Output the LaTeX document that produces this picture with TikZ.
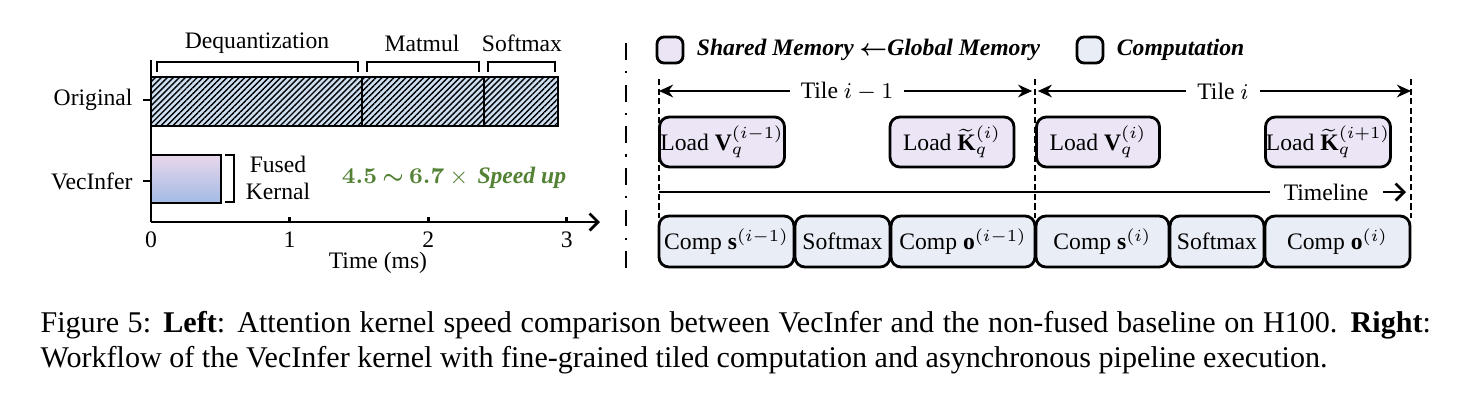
\documentclass[tikz,border=0pt]{standalone}
\usepackage{fontspec}
\setmainfont{Liberation Serif}
\usepackage{amsmath}
\usepackage{bm}
\usetikzlibrary{arrows.meta, positioning, patterns.meta}

\definecolor{loadfill}{RGB}{236,229,246}
\definecolor{compfill}{RGB}{233,237,246}
\definecolor{hatchfill}{RGB}{206,223,242}
\definecolor{fusedtop}{RGB}{233,215,236}
\definecolor{fusedbot}{RGB}{162,186,228}
\definecolor{speedgreen}{RGB}{84,130,53}
\newcommand{\pxu}{0.0125cm}

\begin{document}
\begin{tikzpicture}[x=\pxu, y=-\pxu,
  node distance=0.0125cm,
  lbl/.style={font=\fontsize{8.4}{9.6}\selectfont, inner sep=0pt},
  bar/.style={draw=black, line width=1pt},
  hatchbar/.style={bar, fill=hatchfill,
    postaction={pattern={Lines[angle=45, distance=1.5pt, line width=0.5pt]}, pattern color=black}},
  brk/.style={line width=1pt},
  axisline/.style={line width=1pt},
  tilebox/.style={draw=black, line width=1pt, rounded corners=3.5pt, inner sep=0pt, outer sep=0pt,
    minimum height=50*\pxu, font=\fontsize{8.4}{9.6}\selectfont},
  loadbox/.style={tilebox, fill=loadfill},
  compbox/.style={tilebox, fill=compfill, minimum height=51*\pxu},
  legbox/.style={draw=black, line width=1pt, rounded corners=2.5pt,
    minimum width=26*\pxu, minimum height=26*\pxu, inner sep=0pt},
  legtext/.style={font=\fontsize{8.4}{9.6}\selectfont\bfseries\itshape, inner sep=0pt, anchor=west},
  tiledash/.style={line width=1pt, dash pattern=on 2.2pt off 1.2pt},
  tilearrow/.style={line width=1pt, {Stealth[length=5pt, width=4.5pt]}-{Stealth[length=5pt, width=4.5pt]}},
  chevron/.style={-{Straight Barb[length=3pt, width=6pt, line width=1pt]}},
  caption/.style={font=\fontsize{10.7}{12.8}\selectfont, inner sep=0pt, anchor=base west}
]
\useasboundingbox (0,0) rectangle (1471,406);

% left: kernel time comparison
\draw[axisline] (151,60) -- (151,222);
\draw[axisline, chevron] (151,222) -- (600,222);
\foreach \t in {0,1,2,3}{
  \draw[axisline] ({151+138.6*\t},222) -- ++(0,-5);
  \node[lbl] (tick\t) at ({151+138.6*\t},240) {\t};
}
\node[lbl] (xlabel) at (378,263) {Time (ms)};

\draw[axisline] (143,100) -- (151,100);
\node[lbl, anchor=east] (orig) at (133,100) {Original};
\draw[axisline] (143,181) -- (151,181);
\node[lbl, anchor=east] (vecinf) at (133,181) {VecInfer};

\draw[hatchbar] (151,77) rectangle (362,126);
\draw[hatchbar] (362,77) rectangle (484,126);
\draw[hatchbar] (484,77) rectangle (558,126);

\draw[brk] (157,72) |- (358,62) -- (358,72);
\draw[brk] (367,72) |- (479,62) -- (479,72);
\draw[brk] (488,72) |- (555,62) -- (555,72);
\node[lbl] (deq) at (257,43) {Dequantization};
\node[lbl] (mm) at (422,43) {Matmul};
\node[lbl] (sm) at (522,43) {Softmax};

\shade[top color=fusedtop, bottom color=fusedbot] (151,155) rectangle (221,203);
\draw[bar] (151,155) rectangle (221,203);
\draw[brk] (225,155) -- (234,155) -- (234,202) -- (225,202);
\node[lbl, align=center] (fused) at (278,178) {Fused\\Kernal};

\node[inner sep=0pt, text=speedgreen, font=\fontsize{8.4}{10}\selectfont] (speed) at (454,178)
  {$\bm{4.5\mathbin{\sim}6.7}\times{}$\,\textbf{\textit{Speed up}}};

% divider
\draw[line width=1pt, dash pattern=on 6pt off 4pt on 0.8pt off 4pt] (626,43) -- (626,278);

% right: legend
\node[legbox, fill=loadfill] (legload) at (670,50) {};
\node[legtext, right=0.15cm of legload] (legloadtxt) {Shared Memory $\bm{\leftarrow}$Global Memory};
\node[legbox, fill=compfill] (legcomp) at (1090,50) {};
\node[legtext, right=0.15cm of legcomp] (legcomptxt) {Computation};

% tile borders
\foreach \x in {659,1035,1411}
  \draw[tiledash] (\x,79) -- (\x,218);
\draw[tilearrow, shorten >=1pt] (659,91) -- node[fill=white, lbl, inner xsep=4pt] (tileA) {Tile $i-1$} (1035,91);
\draw[tilearrow, shorten <=1pt] (1035,91) -- node[fill=white, lbl, inner xsep=4pt] (tileB) {Tile $i$} (1411,91);

% load stages
\node[loadbox, minimum width=125*\pxu] (ldV0) at (722,142) {Load $\mathbf{V}_q^{(i-1)}$};
\node[loadbox, minimum width=124*\pxu] (ldK1) at (952,142) {Load $\widetilde{\mathbf{K}}{}_q^{(i)}$};
\node[loadbox, minimum width=123*\pxu] (ldV1) at (1098,142) {Load $\mathbf{V}_q^{(i)}$};
\node[loadbox, minimum width=125*\pxu] (ldK2) at (1328,142) {Load $\widetilde{\mathbf{K}}{}_q^{(i+1)}$};

% timeline
\draw[line width=1pt, chevron] (659,192) -- (1406,192);
\node[lbl, fill=white, minimum width=113*\pxu, minimum height=16*\pxu] (timelbl) at (1326,192) {Timeline};

% compute stages
\node[compbox, minimum width=135*\pxu, anchor=west] (cs0) at (659,241.5) {Comp $\mathbf{s}^{(i-1)}$};
\node[compbox, minimum width=95*\pxu, right=of cs0] (sm0) {Softmax};
\node[compbox, minimum width=144*\pxu, right=of sm0] (co0) {Comp $\mathbf{o}^{(i-1)}$};
\node[compbox, minimum width=133*\pxu, right=of co0] (cs1) {Comp $\mathbf{s}^{(i)}$};
\node[compbox, minimum width=94*\pxu, right=of cs1] (sm1) {Softmax};
\node[compbox, minimum width=145*\pxu, right=of sm1] (co1) {Comp $\mathbf{o}^{(i)}$};

% caption
\node[caption] (cap1) at (40,332) {\hbox to 17.375cm{Figure 5: \textbf{Left}: Attention kernel speed comparison between VecInfer and the non-fused baseline on H100. \textbf{Right}:}};
\node[caption] (cap2) at (40,367) {Workflow of the VecInfer kernel with fine-grained tiled computation and asynchronous pipeline execution.};
\end{tikzpicture}
\end{document}
